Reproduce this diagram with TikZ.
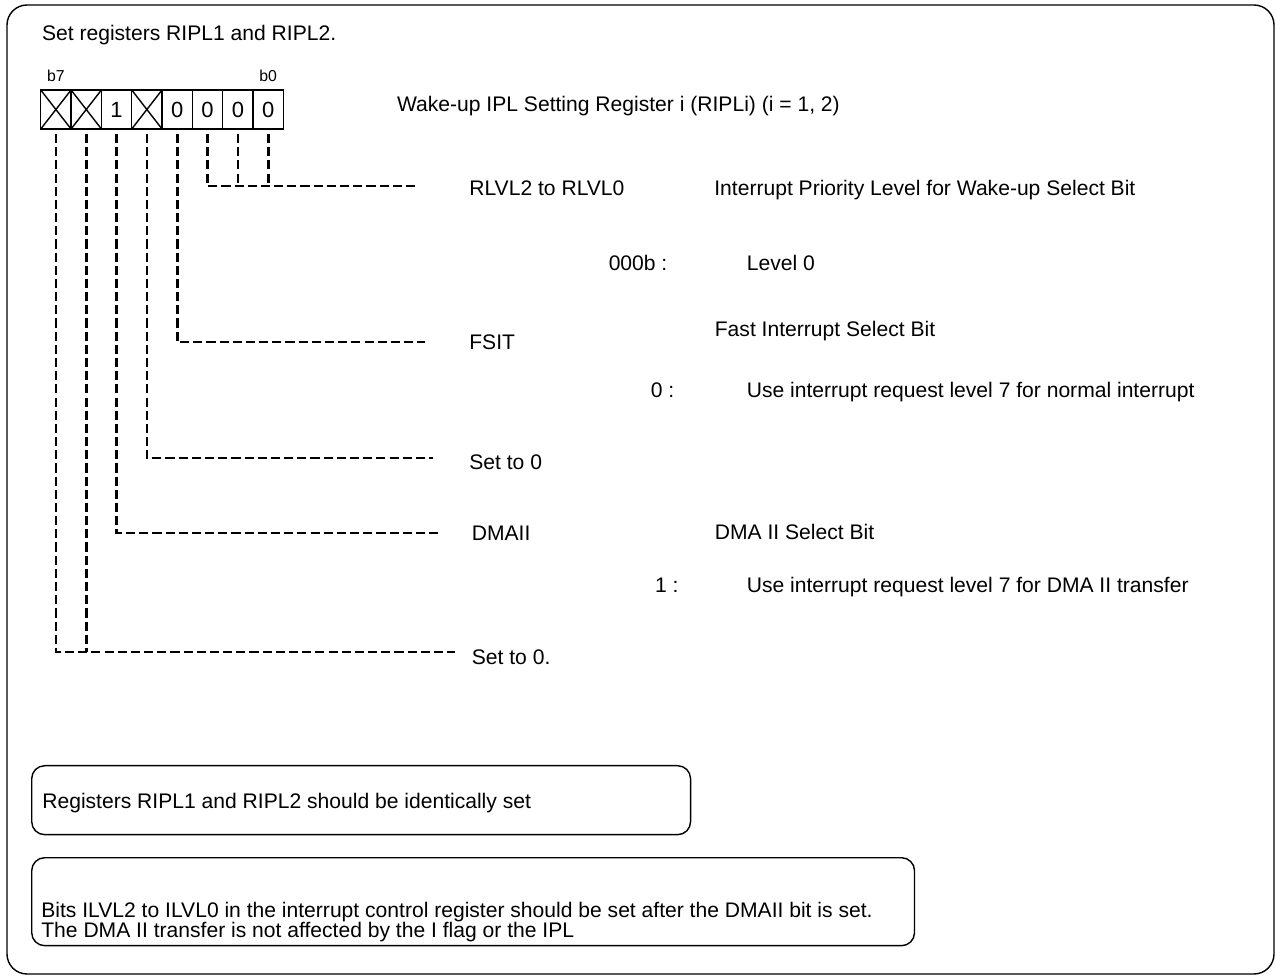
\documentclass[tikz,border=0pt]{standalone}
\usepackage{fontspec}
\setmainfont{Liberation Sans}
\usetikzlibrary{positioning}

\begin{document}
\begin{tikzpicture}[
    x=0.02cm, y=-0.02cm,
    cell/.style={rectangle, draw, line width=0.8pt, minimum width=0.6067cm, minimum height=0.78cm, inner sep=0pt, outer sep=0pt, font=\fontsize{12.5}{14}\selectfont},
    bitlbl/.style={inner sep=0pt, font=\fontsize{9}{10}\selectfont},
    lbl/.style={inner sep=0pt, anchor=west, text height=8.6pt, text depth=0pt, font=\fontsize{12}{14}\selectfont},
    note/.style={rectangle, draw, line width=0.8pt, rounded corners=0.26cm, anchor=north west},
    notetext/.style={inner sep=0pt, anchor=west, align=left, font=\fontsize{12}{11.5}\selectfont},
    leader/.style={line width=1.5pt, dash pattern=on 5.2pt off 2.3pt, shorten <=0.1cm},
    cross/.style={line width=0.8pt}
]
\useasboundingbox (0,0) rectangle (1276,976);
\draw[line width=0.8pt, rounded corners=0.4cm] (7,5) rectangle (1274,974);

\node[lbl] (head) at (41.7,33) {Set registers RIPL1 and RIPL2.};
\node[lbl] (regname) at (396.7,104) {Wake-up IPL Setting Register i (RIPLi) (i = 1, 2)};

\node[cell] (bit7) at (55.9,109.5) {};
\node[cell, right=0pt of bit7] (bit6) {};
\node[cell, right=0pt of bit6] (bit5) {1};
\node[cell, right=0pt of bit5] (bit4) {};
\node[cell, right=0pt of bit4] (bit3) {0};
\node[cell, right=0pt of bit3] (bit2) {0};
\node[cell, right=0pt of bit2] (bit1) {0};
\node[cell, right=0pt of bit1] (bit0) {0};

\draw[cross] (bit7.north west) -- (bit7.south east) (bit7.south west) -- (bit7.north east);
\draw[cross] (bit6.north west) -- (bit6.south east) (bit6.south west) -- (bit6.north east);
\draw[cross] (bit4.north west) -- (bit4.south east) (bit4.south west) -- (bit4.north east);

\node[bitlbl, above=0.15cm of bit7] (b7lbl) {b7};
\node[bitlbl, above=0.15cm of bit0] (b0lbl) {b0};

\node[lbl] (rlvl) at (469,188) {RLVL2 to RLVL0};
\node[lbl] (rlvldesc) at (714,188) {Interrupt Priority Level for Wake-up Select Bit};
\node[lbl] (rlvlval) at (608.4,263) {000b :};
\node[lbl] (rlvlvaldesc) at (746.5,263) {Level 0};
\node[lbl] (fsit) at (469,342) {FSIT};
\node[lbl] (fsitdesc) at (714.5,329) {Fast Interrupt Select Bit};
\node[lbl] (fsitval) at (650.5,390) {0 :};
\node[lbl] (fsitvaldesc) at (746.5,390) {Use interrupt request level 7 for normal interrupt};
\node[lbl] (rsvfour) at (469,462) {Set to 0};
\node[lbl] (dmaii) at (471.5,533) {DMAII};
\node[lbl] (dmaiidesc) at (714.5,532) {DMA II Select Bit};
\node[lbl] (dmaiival) at (654.7,585) {1 :};
\node[lbl] (dmaiivaldesc) at (746.5,585) {Use interrupt request level 7 for DMA II transfer};
\node[lbl] (rsvhigh) at (471.5,657) {Set to 0.};

\coordinate (rlvl-end) at (416,186);
\coordinate (fsit-end) at (425,342);
\coordinate (rsvfour-end) at (433,458);
\coordinate (dmaii-end) at (438,533);
\coordinate (rsvhigh-end) at (455,652);

\draw[leader] (bit2.south) |- (rlvl-end);
\draw[leader] (bit1.south) -- (bit1.south |- rlvl-end);
\draw[leader] (bit0.south) -- (bit0.south |- rlvl-end);
\draw[leader] (bit3.south) |- (fsit-end);
\draw[leader] (bit4.south) |- (rsvfour-end);
\draw[leader] (bit5.south) |- (dmaii-end);
\draw[leader] (bit7.south) |- (rsvhigh-end);
\draw[leader] (bit6.south) -- (bit6.south |- rsvhigh-end);

\node[note, minimum width=13.18cm, minimum height=1.38cm] (note1) at (31,765) {};
\node[notetext] (note1text) at (42,803) {Registers RIPL1 and RIPL2 should be identically set};
\node[note, minimum width=17.66cm, minimum height=1.76cm] (note2) at (31,857) {};
\node[notetext] (note2text) at (41,922) {Bits ILVL2 to ILVL0 in the interrupt control register should be set after the DMAII bit is set.\\The DMA II transfer is not affected by the I flag or the IPL};
\end{tikzpicture}
\end{document}
